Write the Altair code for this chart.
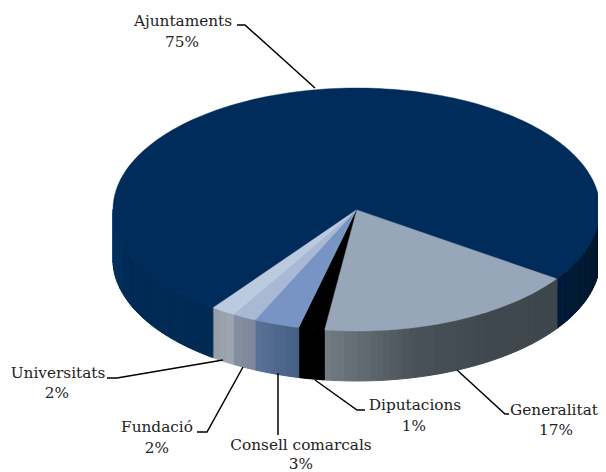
import math
import altair as alt

# ---- values (drawn share of the pie, and printed labels)
names = ["Generalitat", "Diputacions", "Consell comarcals", "Fundació", "Universitats", "Ajuntaments"]
shares = [17.5, 1.7, 3.03, 1.6, 1.6, 74.57]
printed = ["17%", "1%", "3%", "2%", "2%", "75%"]

# ---- styling and layout, kept apart from the values
FONT = "DejaVu Serif"
FONT_SIZE = 15.3
START = 34.6
CX, CY, RX, RY, DEPTH = 356.5 - 8, 209.5 - 8, 243.5, 121.5, 50
TOP = ["#97a6b8", "#000000", "#7794c4", "#a9b8d4", "#bccae0", "#002c5c"]
WALL = [
    ["#3e464c", "#3f474e", "#4a5259", "#737b84"],
    ["#000000", "#000000"],
    ["#465f85", "#5a7296"],
    ["#7c879b", "#868fa2"],
    ["#a0a7b2", "#959ca8"],
    ["#002a52", "#002a55", "#00315f"],
]
RIGHT_WALL = ["#000f24", "#001830", "#001a38"]
LABEL_POS = {
    "Generalitat": ((554, 410), (556, 430)),
    "Diputacions": ((415, 405), (414, 426)),
    "Consell comarcals": ((301, 445), (301, 464)),
    "Fundació": ((157, 427), (157, 448)),
    "Universitats": ((58, 373), (57, 393)),
    "Ajuntaments": ((183, 21), (182, 42)),
}
LEADERS = [
    [(237, 25), (245, 25), (315, 88)],
    [(457, 370), (505, 414), (509, 414)],
    [(315, 380), (357, 410), (365, 410)],
    [(278, 373), (278, 435)],
    [(243, 367), (207, 432), (197, 432)],
    [(223, 360), (117, 378), (107, 378)],
]


def pt(a, dy=0.0):
    r = math.radians(a)
    return [CX + RX * math.cos(r), CY + RY * math.sin(r) + dy]


def lerp(stops, t):
    t = max(0.0, min(1.0, t)) * (len(stops) - 1)
    i = min(int(t), len(stops) - 2)
    f = t - i
    a = [int(stops[i][k:k + 2], 16) for k in (1, 3, 5)]
    b = [int(stops[i + 1][k:k + 2], 16) for k in (1, 3, 5)]
    return "#%02x%02x%02x" % tuple(round(u + (v - u) * f) for u, v in zip(a, b))


def poly(coords, fill):
    return {"type": "Feature", "fill": fill,
            "geometry": {"type": "Polygon", "coordinates": [coords + [coords[0]]]}}


def wall_strips(a0, a1, stops):
    out = []
    n = max(1, int((a1 - a0) / 1.5))
    for i in range(n):
        u = a0 + (a1 - a0) * i / n
        v = a0 + (a1 - a0) * (i + 1) / n
        out.append(poly([pt(u), pt(v), pt(v, DEPTH), pt(u, DEPTH)],
                        lerp(stops, (i + 0.5) / n)))
    return out


walls, tops = [], []
angle = START
for share, top_col, wall_col in zip(shares, TOP, WALL):
    end = angle + share * 3.6
    wall_end = min(end, 180)
    walls += wall_strips(angle, wall_end, wall_col)
    steps = max(2, int((end - angle) / 1.5))
    arc = [pt(angle + (end - angle) * i / steps) for i in range(steps + 1)]
    tops.append(poly([[CX, CY]] + arc, top_col))
    angle = end
walls = wall_strips(0, START, RIGHT_WALL) + walls

identity = dict(type="identity", scale=1, translate=[0, 0])

wall_layer = alt.Chart(alt.Data(values=walls)).mark_geoshape(strokeWidth=1, opacity=1).encode(
    fill=alt.Fill("fill:N", scale=None), stroke=alt.Stroke("fill:N", scale=None)
).project(**identity)

top_layer = alt.Chart(alt.Data(values=tops)).mark_geoshape(strokeWidth=0.4, opacity=1).encode(
    fill=alt.Fill("fill:N", scale=None), stroke=alt.Stroke("fill:N", scale=None)
).project(**identity)

leader_features = [
    {"type": "Feature", "geometry": {"type": "LineString",
                                     "coordinates": [[x - 8, y - 8] for x, y in line]}}
    for line in LEADERS
]
leader_layer = alt.Chart(alt.Data(values=leader_features)).mark_geoshape(
    filled=False, stroke="#000000", strokeWidth=1.5, opacity=1
).project(**identity)

rows = []
for name, pct in zip(names, printed):
    (nx, ny), (px, py) = LABEL_POS[name]
    rows.append({"t": name, "lon": nx - 8, "lat": ny - 8})
    rows.append({"t": pct, "lon": px - 8, "lat": py - 8})

text_layer = alt.Chart(alt.Data(values=rows)).mark_text(
    font=FONT, fontSize=FONT_SIZE, color="#222222", align="center", baseline="middle"
).encode(longitude="lon:Q", latitude="lat:Q", text="t:N").project(**identity)

chart = alt.layer(wall_layer, top_layer, leader_layer, text_layer).properties(
    width=590, height=464, padding=0, background="#ffffff"
).configure_view(stroke=None)

chart.save("out.html", embed_options={"renderer": "svg", "actions": False})
